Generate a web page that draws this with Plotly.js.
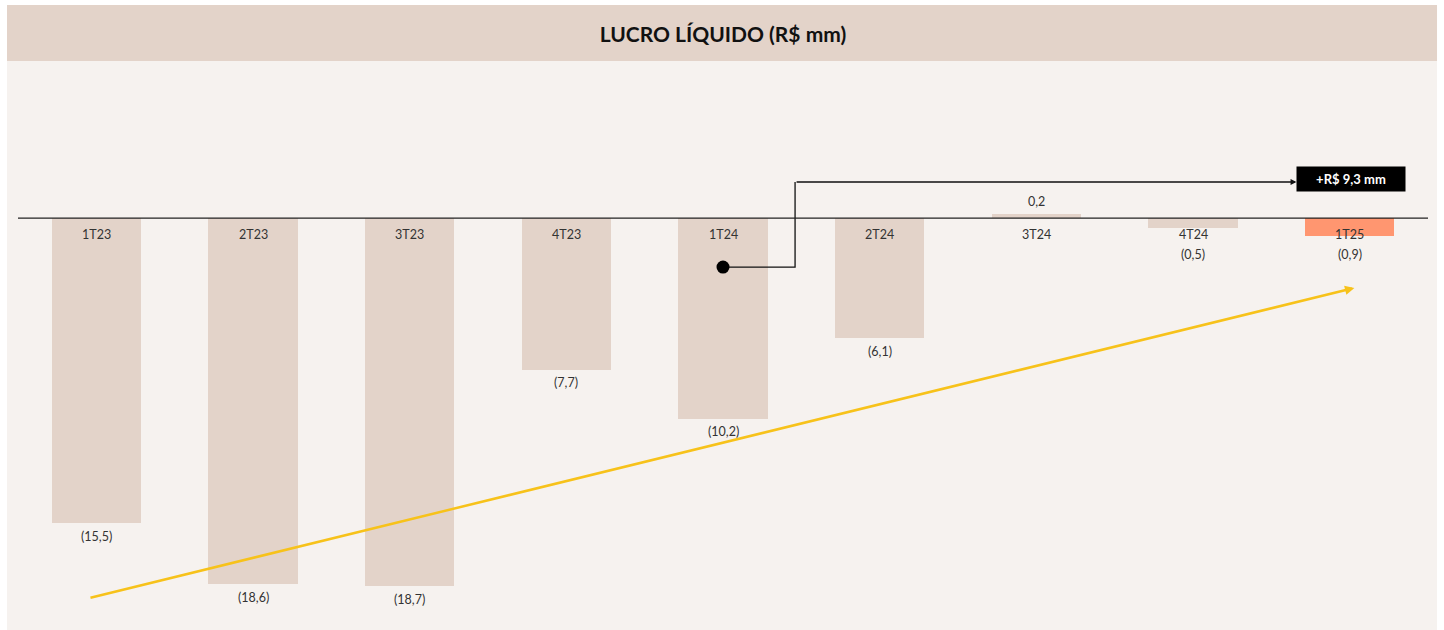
<!DOCTYPE html>
<html>
<head>
<meta charset="utf-8">
<script src="https://cdn.plot.ly/plotly-3.0.1.min.js"></script>
<style>
html,body{margin:0;padding:0;background:#fff;}
#chart{width:1444px;height:630px;}
</style>
</head>
<body>
<div id="chart"></div>
<script>
var categories = ["1T23","2T23","3T23","4T23","1T24","2T24","3T24","4T24","1T25"];
var values = [-15.5,-18.6,-18.7,-7.7,-10.2,-6.1,0.2,-0.5,-0.9];
var valueLabels = ["(15,5)","(18,6)","(18,7)","(7,7)","(10,2)","(6,1)","0,2","(0,5)","(0,9)"];
var highlightLabel = "+R$ 9,3 mm";
var titleText = "LUCRO LÍQUIDO (R$ mm)";

var baseColor = "#e3d3c9";
var hiColor = "#ff9670";
var colors = categories.map(function(c, i){ return i === categories.length - 1 ? hiColor : baseColor; });
var xs = categories.map(function(c, i){ return i; });

var font = "Lato, 'Open Sans', sans-serif";

var traces = [{
  type: "bar",
  x: xs,
  y: values,
  width: 0.57,
  marker: {color: colors},
  hoverinfo: "none",
  showlegend: false
},{
  type: "scatter",
  mode: "lines",
  x: [4, 4.46, 4.46],
  y: [-2.49, -2.49, 1.83],
  line: {color: "#111", width: 1.3},
  hoverinfo: "none",
  showlegend: false
},{
  type: "scatter",
  mode: "markers",
  x: [4],
  y: [-2.49],
  marker: {color: "#000", size: 13},
  hoverinfo: "none",
  showlegend: false
}];

var annotations = [];
categories.forEach(function(c, i){
  annotations.push({
    x: i, y: 0, xref: "x", yref: "y", text: c, showarrow: false,
    yshift: -16, font: {family: font, size: 12.5, color: "#333"}
  });
  var v = values[i];
  var ly = v >= 0 ? v : Math.min(v, -1.17);
  annotations.push({
    x: i, y: ly, xref: "x", yref: "y", text: valueLabels[i], showarrow: false,
    yshift: v >= 0 ? 13 : -13, font: {family: font, size: 12.5, color: "#333"}
  });
});

// black connector arrow
annotations.push({
  x: 7.66, y: 1.83, ax: 4.46, ay: 1.83, xref: "x", yref: "y", axref: "x", ayref: "y",
  text: "", showarrow: true, arrowhead: 2, arrowsize: 0.9, arrowwidth: 1.3, arrowcolor: "#111"
});
// highlight box
annotations.push({
  x: 8.01, y: 1.83, xref: "x", yref: "y", text: "<b>" + highlightLabel + "</b>", showarrow: false,
  bgcolor: "#000", font: {family: font, size: 13, color: "#fff"}, borderpad: 4, width: 100, yshift: 3
});
// yellow trend arrow
annotations.push({
  x: 8.03, y: -3.55, ax: -0.047, ay: -19.29, xref: "x", yref: "y", axref: "x", ayref: "y",
  text: "", showarrow: true, arrowhead: 2, arrowsize: 0.75, arrowwidth: 2.5, arrowcolor: "#f7c21a"
});

var layout = {
  width: 1444, height: 630,
  margin: {l: 18, r: 16, t: 62, b: 2},
  paper_bgcolor: "#ffffff",
  plot_bgcolor: "rgba(0,0,0,0)",
  title: {text: "<b>" + titleText + "</b>", x: 0.5, xref: "paper", y: 1 - 35/630, yanchor: "middle",
          font: {family: font, size: 21, color: "#111"}},
  xaxis: {range: [-0.5, 8.5], showgrid: false, zeroline: false, showticklabels: false, fixedrange: true},
  yaxis: {range: [-20.81, 7.92], showgrid: false, zeroline: false, showticklabels: false, fixedrange: true},
  bargap: 0,
  shapes: [
    {type: "rect", xref: "paper", yref: "paper", x0: -0.0078, x1: 1.0064, y0: -0.0035, y1: 1.1007,
     fillcolor: "#f6f2ef", line: {width: 0}, layer: "below"},
    {type: "rect", xref: "paper", yref: "paper", x0: -0.0078, x1: 1.0064, y0: 1.0018, y1: 1.1007,
     fillcolor: "#e3d3c9", line: {width: 0}, layer: "below"},
    {type: "line", xref: "paper", yref: "y", x0: 0, x1: 1, y0: 0, y1: 0,
     line: {color: "#222", width: 1.3}, layer: "above"}
  ],
  annotations: annotations
};

Plotly.newPlot("chart", traces, layout, {displayModeBar: false, staticPlot: true});
</script>
</body>
</html>
